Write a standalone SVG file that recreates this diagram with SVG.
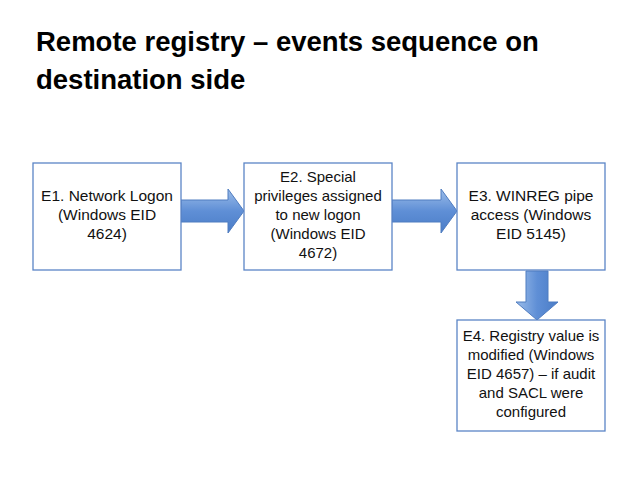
<svg xmlns="http://www.w3.org/2000/svg" width="638" height="479" viewBox="0 0 638 479">
<defs>
<linearGradient id="gh" x1="0" y1="0" x2="0" y2="1"><stop offset="0" stop-color="#9cbde9"/><stop offset="0.5" stop-color="#5f8fd6"/><stop offset="1" stop-color="#4a7cc7"/></linearGradient>
<linearGradient id="gv" x1="0" y1="0" x2="1" y2="0"><stop offset="0" stop-color="#9cbde9"/><stop offset="0.5" stop-color="#5f8fd6"/><stop offset="1" stop-color="#4a7cc7"/></linearGradient>
</defs>
<style>
.box{fill:#fff;stroke:#5b85c6;stroke-width:1.3}
.t{font-family:"Liberation Sans",Arial,sans-serif;font-size:15.5px;fill:#111;text-anchor:middle}
.arr{stroke:#4f7cc0;stroke-width:1}
</style>
<rect width="638" height="479" fill="#fff"/>
<text font-family="Liberation Sans,Arial,sans-serif" font-weight="bold" font-size="27.5" fill="#000"><tspan x="36" y="51">Remote registry – events sequence on</tspan><tspan x="36" y="89">destination side</tspan></text>
<g id="connectors">
<path class="arr" fill="url(#gh)" d="M181,200 H228 V189 L244,211 L228,233 V222 H181 Z"/>
<path class="arr" fill="url(#gh)" d="M392,200 H441 V189 L457,211 L441,233 V222 H392 Z"/>
<path class="arr" fill="url(#gv)" d="M526,271 V302 H516 L537,320 L558,302 H548 V271 Z"/>
</g>
<g id="e1"><rect class="box" x="33" y="163" width="148" height="107"/>
<text class="t"><tspan x="107" y="201">E1. Network Logon</tspan><tspan x="107" y="220">(Windows EID</tspan><tspan x="107" y="239">4624)</tspan></text></g>
<g id="e2"><rect class="box" x="244" y="163" width="148" height="107"/>
<text class="t" style="font-size:15px"><tspan x="318" y="182">E2. Special</tspan><tspan x="318" y="201">privileges assigned</tspan><tspan x="318" y="220">to new logon</tspan><tspan x="318" y="239">(Windows EID</tspan><tspan x="318" y="258">4672)</tspan></text></g>
<g id="e3"><rect class="box" x="457" y="163" width="148" height="107"/>
<text class="t"><tspan x="531" y="201">E3. WINREG pipe</tspan><tspan x="531" y="220">access (Windows</tspan><tspan x="531" y="239">EID 5145)</tspan></text></g>
<g id="e4"><rect class="box" x="457" y="320" width="148" height="111"/>
<text class="t" style="font-size:15px"><tspan x="531" y="341">E4. Registry value is</tspan><tspan x="531" y="360">modified (Windows</tspan><tspan x="531" y="379">EID 4657) – if audit</tspan><tspan x="531" y="398">and SACL were</tspan><tspan x="531" y="417">configured</tspan></text></g>
</svg>
